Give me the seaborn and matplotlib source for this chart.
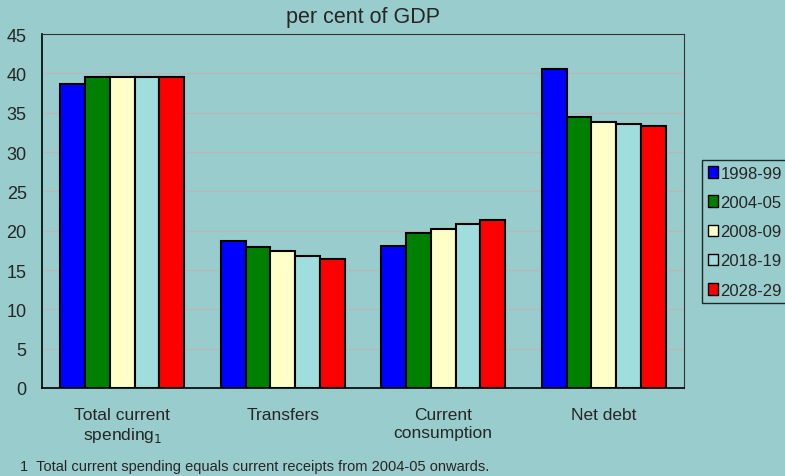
import pandas as pd
import seaborn as sns
import matplotlib.pyplot as plt
from matplotlib.patches import Patch

# values (per cent of GDP)
categories = ["Total current\nspending$_1$", "Transfers", "Current\nconsumption", "Net debt"]
years = ["1998-99", "2004-05", "2008-09", "2018-19", "2028-29"]
v_1998 = [38.6, 18.7, 18.1, 40.5]
v_2004 = [39.5, 17.95, 19.7, 34.4]
v_2008 = [39.5, 17.45, 20.2, 33.8]
v_2018 = [39.5, 16.8, 20.8, 33.5]
v_2028 = [39.5, 16.4, 21.3, 33.3]
colors = ["#0000FF", "#008000", "#FFFFC8", "#A0DEDE", "#FF0000"]
bg = "#99CCCC"

rows = []
for yr, vals in zip(years, [v_1998, v_2004, v_2008, v_2018, v_2028]):
    for cat, v in zip(categories, vals):
        rows.append({"cat": cat, "year": yr, "value": v})
df = pd.DataFrame(rows)

sns.set_style("white")
plt.rcParams['font.family'] = ['Liberation Sans', 'DejaVu Sans']

fig = plt.figure(figsize=(7.85, 4.77), dpi=100, facecolor=bg)
ax = fig.add_axes([42 / 785, 1 - 389 / 477, 642 / 785, 354 / 477])
ax.set_facecolor(bg)

sns.barplot(data=df, x="cat", y="value", hue="year", order=categories, hue_order=years,
            palette=colors, width=0.77, edgecolor="black", linewidth=1.5,
            saturation=1, ax=ax, legend=False)

ax.set_ylim(0, 45)
ax.set_xlim(-0.5, 3.5)
ax.set_yticks(range(0, 46, 5))
ax.yaxis.grid(True, color="#B8B8B8", linewidth=1)
ax.set_axisbelow(True)
ax.set_xlabel("")
ax.set_ylabel("")
ax.tick_params(axis="y", labelsize=13, length=4, direction="out", color="black", pad=7)
ax.set_xticks([0.5, 1.5, 2.5], minor=True)
ax.tick_params(axis="x", which="major", length=0, labelsize=12.5, pad=14)
ax.tick_params(axis="x", which="minor", length=4, direction="in", color="black")
for s in ["left", "bottom"]:
    ax.spines[s].set_color("black")
    ax.spines[s].set_linewidth(1.2)
for s in ["top", "right"]:
    ax.spines[s].set_color("#333333")
    ax.spines[s].set_linewidth(0.8)

fig.text(363 / 785, 1 - 18 / 477, "per cent of GDP", ha="center", va="center", fontsize=15.5)
fig.text(20 / 785, 1 - 467 / 477, "1  Total current spending equals current receipts from 2004-05 onwards.",
         ha="left", va="center", fontsize=10.5)

handles = [Patch(facecolor=c, edgecolor="black", linewidth=1) for c in colors]
leg = fig.legend(handles, years, loc="upper left", bbox_to_anchor=(702 / 785, 1 - 161 / 477),
                 frameon=True, fancybox=False, facecolor=bg, edgecolor="black",
                 fontsize=12, handlelength=0.6, handleheight=0.7, handletextpad=0.15,
                 labelspacing=0.85, borderpad=0.35, borderaxespad=0)
leg.get_frame().set_linewidth(1)

fig.savefig("out.png", dpi=100, facecolor=bg)
